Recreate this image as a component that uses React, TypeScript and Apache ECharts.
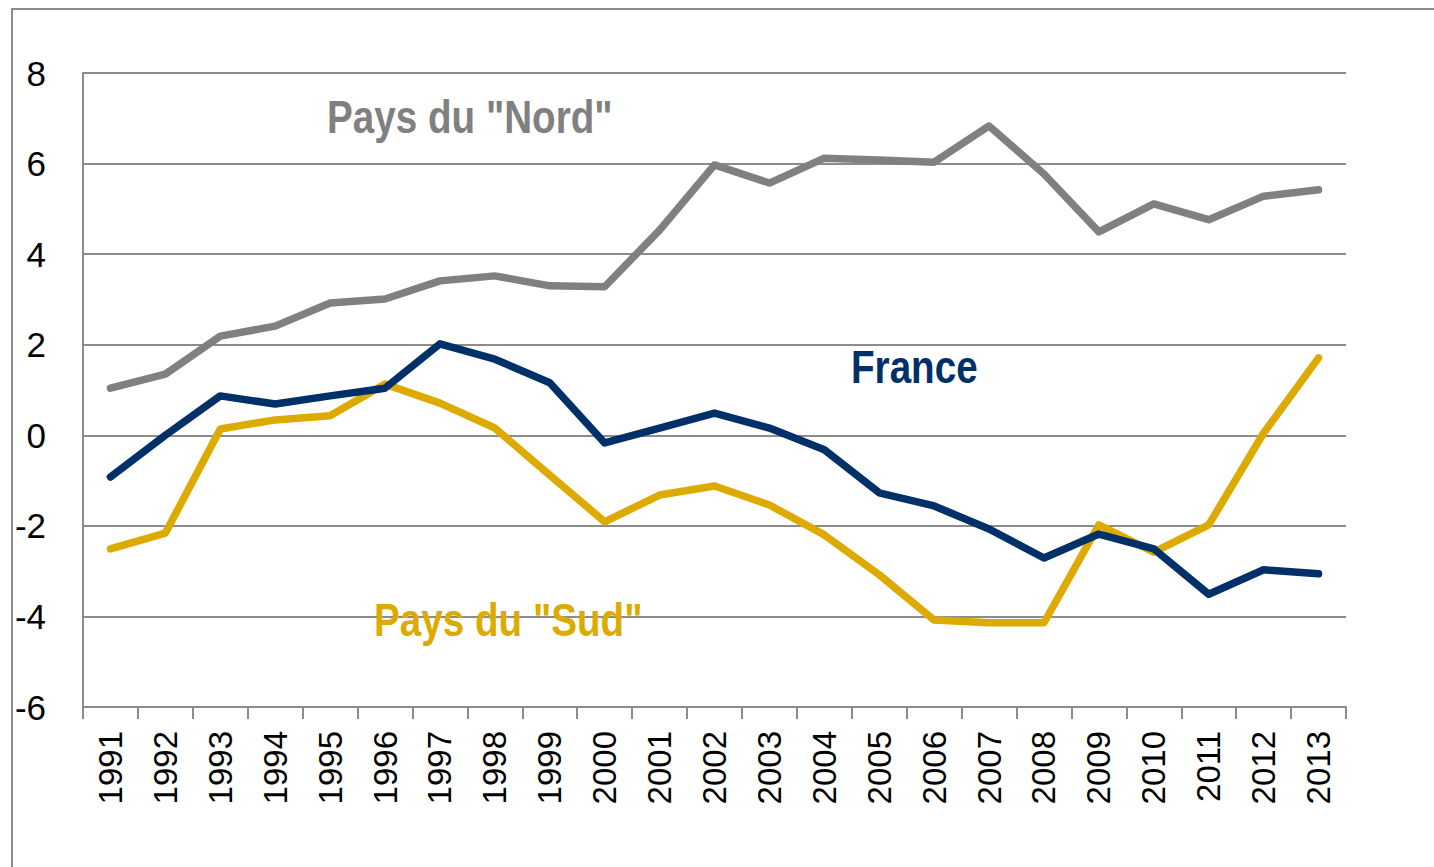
import React, { useEffect, useRef } from "react";
import * as echarts from "echarts";

const years = ["1991","1992","1993","1994","1995","1996","1997","1998","1999","2000","2001","2002","2003","2004","2005","2006","2007","2008","2009","2010","2011","2012","2013"];
const nord = [1.04,1.35,2.19,2.41,2.92,3.01,3.41,3.52,3.30,3.28,4.53,5.97,5.57,6.12,6.08,6.03,6.83,5.77,4.49,5.11,4.76,5.28,5.42];
const france = [-0.92,0.0,0.87,0.69,0.87,1.04,2.02,1.68,1.16,-0.17,0.16,0.49,0.16,-0.32,-1.27,-1.56,-2.07,-2.71,-2.18,-2.51,-3.51,-2.97,-3.06];
const sud = [-2.51,-2.16,0.14,0.34,0.43,1.13,0.71,0.16,-0.88,-1.91,-1.32,-1.12,-1.54,-2.20,-3.08,-4.08,-4.14,-4.14,-1.98,-2.58,-1.98,0.05,1.71];

const GRAY = "#808080";
const NAVY = "#003068";
const GOLD = "#DDAA00";
const AXIS = "#8c8c8c";
const FONT = "'Liberation Sans', Arial, sans-serif";

export default function App() {
  const ref = useRef<HTMLDivElement>(null);
  useEffect(() => {
    if (!ref.current) return;
    const chart = echarts.init(ref.current, null, { renderer: "svg" });
    const lineSeries = (name: string, data: number[], color: string) => ({
      name,
      type: "line",
      data,
      symbol: "none",
      lineStyle: { color, width: 7.5, cap: "round", join: "round" },
      itemStyle: { color },
    });
    const label = (text: string, x: number, y: number, color: string) => ({
      type: "text",
      x,
      y,
      scaleX: 0.84,
      style: {
        text,
        x: 0,
        y: 0,
        fill: color,
        font: `bold 46px ${FONT}`,
        textAlign: "left",
        textVerticalAlign: "middle",
      },
      z: 10,
    });
    chart.setOption({
      animation: false,
      backgroundColor: "#ffffff",
      grid: { left: 83, top: 73, right: 88, bottom: 160, containLabel: false },
      xAxis: {
        type: "category",
        data: years,
        boundaryGap: true,
        axisLine: { onZero: false, lineStyle: { color: AXIS, width: 2 } },
        axisTick: { show: true, length: 12, lineStyle: { color: AXIS, width: 2 } },
        axisLabel: {
          rotate: 90,
          margin: 24,
          color: "#000",
          fontSize: 33,
          fontFamily: FONT,
          interval: 0,
        },
      },
      yAxis: {
        type: "value",
        min: -6,
        max: 8,
        interval: 2,
        axisLine: { show: true, lineStyle: { color: AXIS, width: 2 } },
        axisTick: { show: true, inside: true, length: 12, lineStyle: { color: AXIS, width: 2 } },
        splitLine: { lineStyle: { color: AXIS, width: 2 } },
        axisLabel: { color: "#000", fontSize: 35, fontFamily: FONT, margin: 37 },
      },
      series: [
        lineSeries("Pays du \"Nord\"", nord, GRAY),
        lineSeries("Pays du \"Sud\"", sud, GOLD),
        lineSeries("France", france, NAVY),
      ],
      graphic: [
        {
          type: "rect",
          shape: { x: 12, y: 9, width: 1600, height: 1000 },
          style: { fill: "none", stroke: AXIS, lineWidth: 2 },
          silent: true,
          z: 0,
        },
        label("Pays du \"Nord\"", 327, 117, GRAY),
        label("France", 851, 367, NAVY),
        label("Pays du \"Sud\"", 374, 620, GOLD),
      ],
    });
    return () => chart.dispose();
  }, []);
  return (
    <div
      ref={ref}
      style={{ position: "fixed", left: 0, top: 0, width: 1434, height: 867 }}
    />
  );
}
